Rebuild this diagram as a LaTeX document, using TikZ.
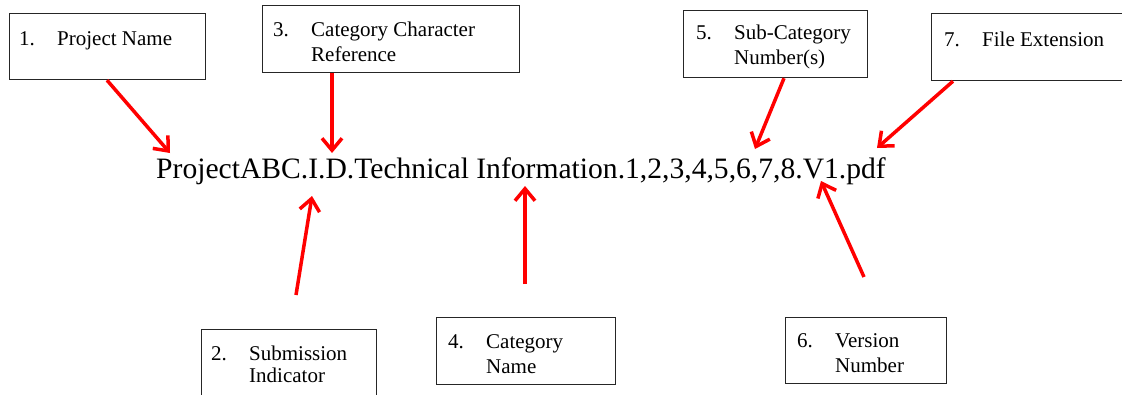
\documentclass[tikz,border=0pt]{standalone}
\usepackage{fontspec}
\setmainfont{Liberation Serif}
\usetikzlibrary{arrows.meta,positioning}
\tikzset{%
  arrow/.style={red,line width=3.5pt,-{Straight Barb[length=12pt,width=20pt]}},
  field/.style={draw=black!85,line width=1.2pt,anchor=north west,inner sep=0pt},
  fieldtext/.style={anchor=base west,inner sep=0pt,font=\fontsize{21}{25}\selectfont},
  filename/.style={anchor=base west,inner sep=0pt,font=\fontsize{29.6}{34}\selectfont},
}
\newcommand{\fieldno}[3]{\begin{tabular}[t]{@{}p{38pt}@{}l@{}}#1 & #2\\ & #3\end{tabular}}

\begin{document}
\begin{tikzpicture}[x=1pt,y=-1pt]
      \useasboundingbox (0,0) rectangle (1122,394);
      \clip (0,0) rectangle (1122,394);

      % boxes
      \node[field,minimum width=196pt,minimum height=66pt] (project) at (9,13) {};
      \node[field,minimum width=257pt,minimum height=67pt] (catChar) at (262,5) {};
      \node[field,minimum width=184pt,minimum height=67pt] (subCat) at (683,10) {};
      \node[field,minimum width=200pt,minimum height=67pt] (extension) at (931,13) {};
      \node[field,minimum width=175pt,minimum height=80pt] (submission) at (201,329) {};
      \node[field,minimum width=179pt,minimum height=67pt] (catName) at (436,317) {};
      \node[field,minimum width=161pt,minimum height=66pt] (version) at (785,317) {};

      \node[fieldtext] (projectText) at ([xshift=10pt,yshift=-32pt]project.north west) {\fieldno{1.}{Project Name}{}};
      \node[fieldtext] (catCharText) at ([xshift=11pt,yshift=-31pt]catChar.north west) {\fieldno{3.}{Category Character}{Reference}};
      \node[fieldtext] (subCatText) at ([xshift=13pt,yshift=-29pt]subCat.north west) {\fieldno{5.}{Sub-Category}{Number(s)}};
      \node[fieldtext] (extensionText) at ([xshift=13pt,yshift=-33pt]extension.north west) {\fieldno{7.}{File Extension}{}};
      \node[fieldtext,font=\fontsize{21}{22}\selectfont] (submissionText) at ([xshift=10pt,yshift=-31pt]submission.north west) {\fieldno{2.}{Submission}{Indicator}};
      \node[fieldtext] (catNameText) at ([xshift=12pt,yshift=-31pt]catName.north west) {\fieldno{4.}{Category}{Name}};
      \node[fieldtext] (versionText) at ([xshift=12pt,yshift=-30pt]version.north west) {\fieldno{6.}{Version}{Number}};

      % file name
      \node[filename] (fname) at (156,178) {ProjectABC.I.D.Technical Information.1,2,3,4,5,6,7,8.V1.pdf};

      \coordinate (projectTip) at (170,153);
      \coordinate (catCharTip) at (332,153);
      \coordinate (subCatTip) at (755,149);
      \coordinate (extensionTip) at (877,148);
      \coordinate (submissionTip) at (312,196);
      \coordinate (catNameTip) at (525,186);
      \coordinate (versionTip) at (821,181);
      \coordinate (submissionTail) at (296,295);
      \coordinate (catNameTail) at (525,284);
      \coordinate (versionTail) at (864,277);

      \draw[arrow] ([xshift=98pt]project.south west) -- (projectTip);
      \draw[arrow] ([xshift=70pt]catChar.south west) -- (catCharTip);
      \draw[arrow] ([xshift=101pt]subCat.south west) -- (subCatTip);
      \draw[arrow] ([xshift=22pt]extension.south west) -- (extensionTip);
      \draw[arrow] (submissionTail) -- (submissionTip);
      \draw[arrow] (catNameTail) -- (catNameTip);
      \draw[arrow] (versionTail) -- (versionTip);
    \end{tikzpicture}
\end{document}
